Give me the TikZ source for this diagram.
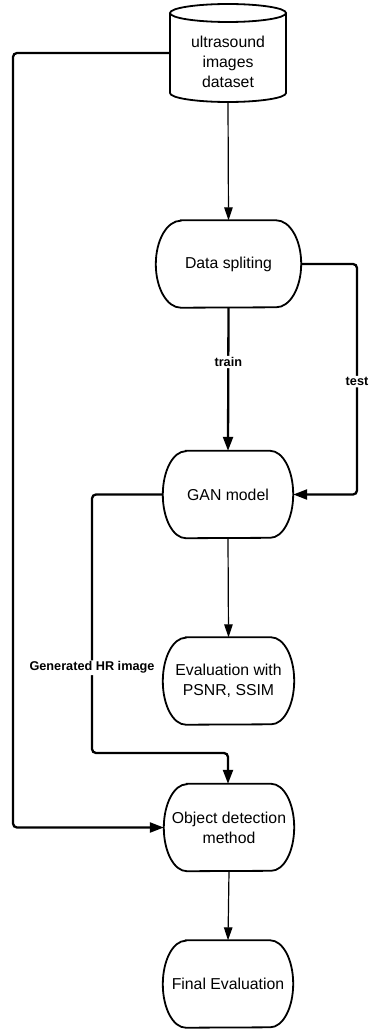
\documentclass[tikz,border=0pt]{standalone}
\usepackage{fontspec}
\setmainfont{Liberation Sans}
\usetikzlibrary{arrows.meta}
\tikzset{
  box/.style={draw=none, minimum height=87pt, align=center, inner sep=0pt,
    font=\fontsize{15.8}{20}\selectfont},
  thinarrow/.style={line width=1.2pt, -{Triangle[length=13pt,width=8.5pt]}},
  thickarrow/.style={line width=2.3pt, rounded corners=4pt, -{Triangle[length=14pt,width=10pt]}},
  lbl/.style={fill=white, inner sep=1.5pt, font=\fontsize{12.7}{15}\selectfont\bfseries},
  outline/.style={line width=1.8pt}
}
\newcommand{\procoutline}[2]{%
  \draw[outline] ([xshift=#2]#1.north west) -- ([xshift=-#2]#1.north east)
    arc[start angle=90,end angle=-90,x radius=#2,y radius=43.5pt]
    -- ([xshift=#2]#1.south west)
    arc[start angle=270,end angle=90,x radius=#2,y radius=43.5pt] -- cycle;}
\begin{document}
\begin{tikzpicture}[x=1pt,y=-1pt]
\useasboundingbox (0,0) rectangle (370,1030);
% cylinder
\draw[outline, fill=white] (170,13) -- (170,93) arc[start angle=180,end angle=360,x radius=58pt,y radius=9pt] -- (286,13);
\draw[outline] (228,13) ellipse[x radius=58pt,y radius=9pt];
\node[box, minimum width=116pt, minimum height=98pt] (db) at (228,53)
  {\raisebox{-10.5pt}[\height][\depth]{\begin{tabular}{@{}c@{}}ultrasound\\images\\dataset\end{tabular}}};
% process boxes
\node[box, minimum width=145pt] (split) at (228.5,264) {Data spliting};
\procoutline{split}{25pt}
\node[box, minimum width=130pt] (gan) at (228,494.5) {GAN model};
\procoutline{gan}{23pt}
\node[box, minimum width=131pt] (eval) at (228.5,681) {Evaluation with\\PSNR, SSIM};
\procoutline{eval}{23pt}
\node[box, minimum width=130pt] (obj) at (229,827.5) {Object detection\\method};
\procoutline{obj}{23pt}
\node[box, minimum width=130pt] (final) at (228,984) {Final Evaluation};
\procoutline{final}{23pt}
% helper coordinates
\coordinate (sr) at (357,264);
\coordinate (gr) at (357,494.5);
\coordinate (gl) at (92,494.5);
\coordinate (gb) at (92,753);
\coordinate (ga) at (228,753);
\coordinate (dl) at (13,53);
\coordinate (dlb) at (13,827.5);
% connectors
\draw[thinarrow] (db.south) -- (split.north);
\draw[thickarrow] (split.south) -- node[lbl, pos=0.38] {train} (gan.north);
\draw[thickarrow] (split.east) -- (sr) -- node[lbl, pos=0.51] {test} (gr) -- (gan.east);
\draw[thinarrow] (gan.south) -- (eval.north);
\draw[thickarrow] (gan.west) -- (gl) -- node[lbl, pos=0.67] {Generated HR image} (gb) -- (ga) -- (ga |- obj.north);
\draw[thickarrow] (db.west) -- (dl) -- (dlb) -- (obj.west);
\draw[thinarrow] (obj.south) -- (final.north);
\end{tikzpicture}
\end{document}
